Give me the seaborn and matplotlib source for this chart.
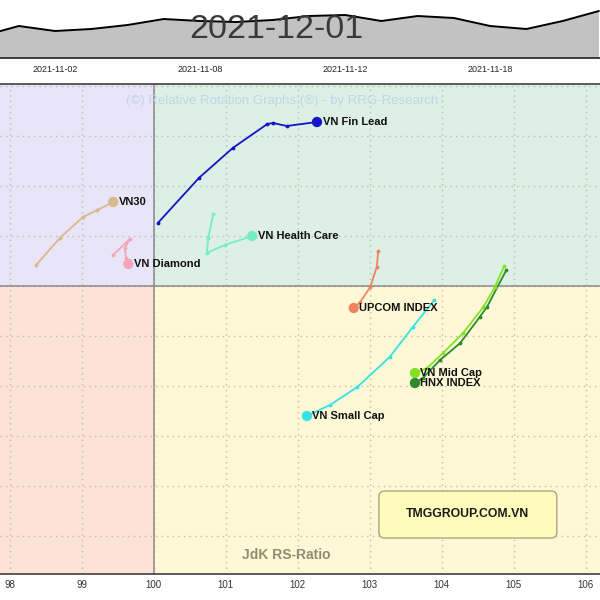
import numpy as np
import pandas as pd
import seaborn as sns
import matplotlib.pyplot as plt
from matplotlib.patches import FancyBboxPatch

sns.set_style("white")
plt.rcParams['font.family'] = ['Liberation Sans', 'DejaVu Sans']

# top strip: benchmark index over the trading days
dates = ["2021-10-29", "2021-11-01", "2021-11-02", "2021-11-03", "2021-11-04", "2021-11-05",
         "2021-11-08", "2021-11-09", "2021-11-10", "2021-11-11", "2021-11-12", "2021-11-15",
         "2021-11-16", "2021-11-17", "2021-11-18", "2021-11-19", "2021-11-22", "2021-11-23"]
index_close = [1422, 1432, 1427, 1429, 1433, 1439, 1437, 1436, 1438, 1442, 1443, 1437,
               1442, 1440, 1432, 1429, 1437, 1447]
date_ticks = ["2021-11-02", "2021-11-08", "2021-11-12", "2021-11-18"]

# RRG trails (JdK RS-Ratio, JdK RS-Momentum), last point = head
names = ["VN Fin Lead", "VN30", "VN Diamond", "VN Health Care", "UPCOM INDEX",
         "VN Small Cap", "VN Mid Cap", "HNX INDEX"]
rs_ratio = {
    "VN Fin Lead": [100.06, 100.63, 101.10, 101.58, 101.66, 101.85, 102.27],
    "VN30": [98.37, 98.70, 99.02, 99.22, 99.44],
    "VN Diamond": [99.44, 99.67, 99.60, 99.62, 99.65],
    "VN Health Care": [100.83, 100.76, 100.74, 100.99, 101.37],
    "UPCOM INDEX": [103.12, 103.10, 103.01, 102.87, 102.78],
    "VN Small Cap": [103.90, 103.60, 103.28, 102.83, 102.45, 102.13],
    "VN Mid Cap": [104.87, 104.74, 104.58, 104.30, 104.02, 103.80, 103.63],
    "HNX INDEX": [104.90, 104.63, 104.53, 104.26, 103.98, 103.74, 103.63],
}
rs_momentum = {
    "VN Fin Lead": [100.63, 101.08, 101.38, 101.62, 101.63, 101.60, 101.64],
    "VN30": [100.21, 100.48, 100.69, 100.76, 100.84],
    "VN Diamond": [100.31, 100.47, 100.38, 100.28, 100.22],
    "VN Health Care": [100.72, 100.48, 100.33, 100.41, 100.50],
    "UPCOM INDEX": [100.35, 100.19, 99.99, 99.84, 99.78],
    "VN Small Cap": [99.86, 99.59, 99.29, 98.99, 98.81, 98.70],
    "VN Mid Cap": [100.20, 99.99, 99.79, 99.53, 99.33, 99.18, 99.13],
    "HNX INDEX": [100.16, 99.79, 99.69, 99.43, 99.26, 99.08, 99.03],
}
colors = {
    "VN Fin Lead": "#1414c8", "VN30": "#d9b98a", "VN Diamond": "#f4a6b6",
    "VN Health Care": "#74eec4", "UPCOM INDEX": "#ef8464", "VN Small Cap": "#36e2e6",
    "VN Mid Cap": "#84e024", "HNX INDEX": "#2c8a30",
}
x_ticks = [98, 99, 100, 101, 102, 103, 104, 105, 106]

fig = plt.figure(figsize=(6, 6), dpi=100)

# ---- top strip ----
ax_top = fig.add_axes([0, 1 - 58 / 600, 1, 58 / 600])
top = pd.DataFrame({"pos": np.arange(len(dates)), "close": index_close})
ax_top.fill_between(top["pos"], top["close"], 1400, color="#c2c2c2", lw=0)
sns.lineplot(data=top, x="pos", y="close", color="black", lw=1.4, ax=ax_top)
ax_top.set_xlim(0.483, 17.03)
ax_top.set_ylim(1400, 1458)
ax_top.set_xticks([dates.index(d) for d in date_ticks])
ax_top.set_xticklabels(date_ticks, fontsize=6.5)
ax_top.tick_params(axis="x", length=0, pad=5)
ax_top.set_yticks([])
ax_top.set_xlabel("")
ax_top.set_ylabel("")
for s in ["top", "left", "right"]:
    ax_top.spines[s].set_visible(False)
ax_top.spines["bottom"].set_color("#202020")
ax_top.spines["bottom"].set_linewidth(1.2)

fig.text(276 / 600, 1 - 30 / 600, "2021-12-01", ha="center", va="center",
         fontsize=24.5, color="#3a3a3a")

# ---- main RRG ----
ax = fig.add_axes([0, 1 - 574 / 600, 1, 490 / 600])
xmin, xmax = 97.868, 106.20
ymin, ymax = 97.12, 102.02
ax.set_xlim(xmin, xmax)
ax.set_ylim(ymin, ymax)

ax.fill_between([xmin, 100], 100, ymax, color="#e7e5f7", lw=0, zorder=0)
ax.fill_between([100, xmax], 100, ymax, color="#deefe6", lw=0, zorder=0)
ax.fill_between([100, xmax], ymin, 100, color="#fff8d6", lw=0, zorder=0)
ax.fill_between([xmin, 100], ymin, 100, color="#fde2d8", lw=0, zorder=0)

ax.set_xticks(x_ticks)
ax.set_yticks(np.arange(97.5, 102.01, 0.5))
ax.grid(True, linestyle=(0, (1, 3)), color="#bdbdae", lw=1.0, zorder=0.5)
ax.axvline(100, color="#8a8a8a", lw=1.1)
ax.axhline(100, color="#8a8a8a", lw=1.1)
ax.tick_params(axis="x", length=0, pad=4, labelsize=7, labelcolor="#333333")
ax.tick_params(axis="y", left=False, labelleft=False)
for s in ["left", "right"]:
    ax.spines[s].set_visible(False)
for s in ["top", "bottom"]:
    ax.spines[s].set_color("#404040")
    ax.spines[s].set_linewidth(1.2)

ax.text(101.78, 101.85, "(©) Relative Rotation Graphs:(®) - by RRG-Research",
        ha="center", va="center", fontsize=9.5, color="#c0d6e8")
ax.text(101.85, 97.31, "JdK RS-Ratio", ha="center", va="center",
        fontsize=10, fontweight="bold", color="#8e8e70")

box = FancyBboxPatch((103.13, 97.48), 2.47, 0.47,
                     boxstyle="round,pad=0,rounding_size=0.08", mutation_aspect=0.72,
                     fc="#fefcba", ec="#aaa684", lw=1)
ax.add_patch(box)
ax.text(104.365, 97.715, "TMGGROUP.COM.VN", ha="center", va="center",
        fontsize=8.8, fontweight="bold", color="#1a1a1a")

for name in names:
    trail = pd.DataFrame({"x": rs_ratio[name], "y": rs_momentum[name]})
    c = colors[name]
    sns.lineplot(data=trail, x="x", y="y", sort=False, estimator=None,
                 color=c, lw=1.3, ax=ax)
    ax.scatter(trail["x"].iloc[:-1], trail["y"].iloc[:-1], s=3, color=c, zorder=3)
    sns.scatterplot(x=[trail["x"].iloc[-1]], y=[trail["y"].iloc[-1]], s=55,
                    color=c, edgecolor="none", zorder=4, ax=ax)
    ax.annotate(name, (trail["x"].iloc[-1], trail["y"].iloc[-1]), xytext=(4, 0),
                textcoords="offset points", ha="left", va="center",
                fontsize=8, fontweight="bold", color="#111111")

ax.set_xlabel("")
ax.set_ylabel("")

fig.savefig("out.png", dpi=100)
